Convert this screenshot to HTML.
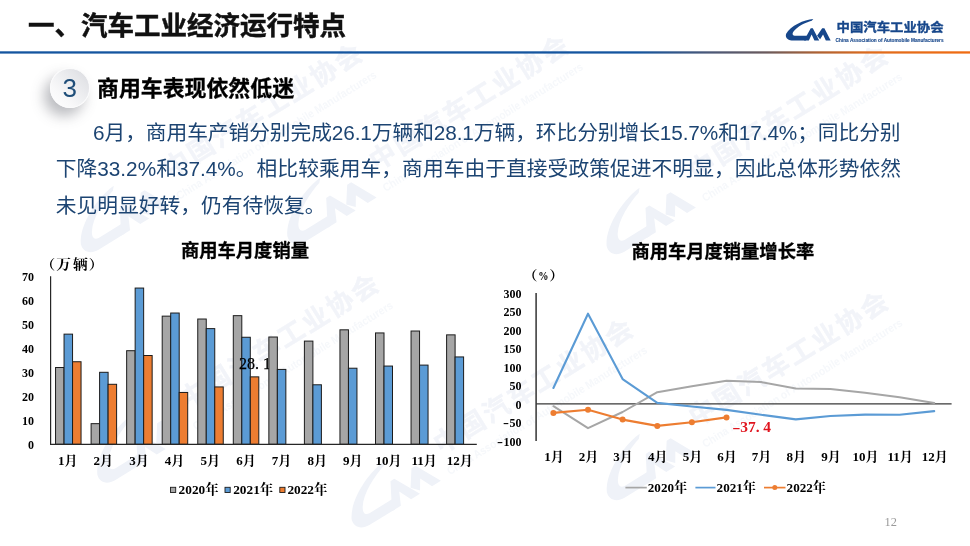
<!DOCTYPE html>
<html lang="zh-CN"><head><meta charset="utf-8"><title>汽车工业经济运行特点</title>
<style>
html,body{margin:0;padding:0;background:#fff;}
body{width:970px;height:546px;overflow:hidden;position:relative;font-family:"Liberation Sans","Noto Sans CJK SC",sans-serif;}
.abs{position:absolute;white-space:nowrap;}
#title{left:28px;top:7px;font-size:26.5px;font-weight:bold;color:#111;-webkit-text-stroke:0.45px #111;line-height:38px;letter-spacing:0px;}
#rule{left:0;top:51.1px;width:970px;height:2.6px;background:linear-gradient(90deg,#14559f 0,#14559f 62%,#5a5a66 76%,#e8792c 93%,#f08030 100%);}
#bubble{left:49.7px;top:68px;width:40px;height:40px;border-radius:50%;box-sizing:border-box;border:1.2px solid #fbfbfc;background:linear-gradient(225deg,#d9dade 0%,#e9eaed 35%,#f8f8f9 70%,#ffffff 100%);box-shadow:-6px 8px 13px rgba(70,72,82,.36);}
#num{left:49.7px;top:68.4px;width:40px;height:40px;line-height:40px;text-align:center;font-size:26px;color:#1f4e79;}
#sec{left:97px;top:72.5px;font-size:21.9px;font-weight:bold;color:#000;-webkit-text-stroke:0.3px #000;line-height:32px;}
.p{left:55.7px;width:845.3px;font-size:20.75px;line-height:34px;color:#1c4472;text-align:justify;text-align-last:justify;white-space:nowrap;}
#p1{left:93px;width:807.5px;top:116px;letter-spacing:-0.1px;}
#p2{top:152px;}
#p3{top:189px;width:auto;text-align:left;text-align-last:left;}
.ct{font-size:18.3px;font-weight:bold;color:#000;line-height:24px;-webkit-text-stroke:0.3px #000;}
#pg{left:884px;top:514px;font-size:10.5px;color:#8c8c8c;}
svg text{font-family:"Liberation Serif","Noto Serif CJK SC",serif;}
svg .sb{font-weight:bold;}
svg .sr{font-weight:normal;}
svg .sans{font-family:"Liberation Sans","Noto Sans CJK SC",sans-serif;font-weight:bold;}
</style></head><body>
<svg class="abs" style="left:0;top:0" width="970" height="546" viewBox="0 0 970 546">
<defs>
<g id="logo">
<path d="M455,122C330,130 140,215 84,325C68,372 98,413 160,415L352,416L398,352L200,352C168,350 165,325 185,295C235,222 350,170 434,146Z"/>
<path d="M328,416L420,250L448,250L536,416L470,416L432,335L394,416Z"/>
<path d="M506,352L576,250L606,250L692,416L626,416L588,335L548,398Z"/>
</g>
<g id="brand">
<g transform="translate(780,10) scale(0.07322)"><use href="#logo"/></g>
<text class="sans" x="836.6" y="31.7" font-size="12.3" textLength="107" lengthAdjust="spacingAndGlyphs" stroke="#17478b" stroke-width="0.35">中国汽车工业协会</text>
<text class="sans" x="835.6" y="42.2" font-size="5.3" textLength="108" lengthAdjust="spacingAndGlyphs" stroke="#17478b" stroke-width="0.12">China Association of Automobile Manufacturers</text>
</g>
<g id="wmk">
<g transform="translate(780,11.65) scale(0.07322)" fill="#eff2f8"><use href="#logo"/></g>
<text class="sans" x="837.1" y="31.8" font-size="12.2" letter-spacing="1.17" stroke="#f2f4f9" stroke-width="0.2" fill="#f2f4f9">中国汽车工业协会</text>
<text class="sans" x="835.6" y="42.2" font-size="5.3" textLength="108" lengthAdjust="spacingAndGlyphs" fill="#f6f8fb">China Association of Automobile Manufacturers</text>
</g>
</defs>
<g fill="#f2f4f9">
<g transform="translate(348.5,57) rotate(-31.85) scale(2.16) translate(-937.1,-27.3)"><use href="#wmk"/></g>
<g transform="translate(555,49) rotate(-31.85) scale(2.16) translate(-937.1,-27.3)"><use href="#wmk"/></g>
<g transform="translate(874.3,59) rotate(-31.85) scale(2.16) translate(-937.1,-27.3)"><use href="#wmk"/></g>
<g transform="translate(365,287.5) rotate(-31.85) scale(2.16) translate(-937.1,-27.3)"><use href="#wmk"/></g>
<g transform="translate(619.3,332.3) rotate(-31.85) scale(2.16) translate(-937.1,-27.3)"><use href="#wmk"/></g>
<g transform="translate(874.5,305) rotate(-31.85) scale(2.16) translate(-937.1,-27.3)"><use href="#wmk"/></g>
</g>
</svg>
<div class="abs" id="title">一、汽车工业经济运行特点</div>
<svg class="abs" style="left:0;top:0" width="970" height="60" viewBox="0 0 970 60"><defs><linearGradient id="rg" x1="0" x2="1" y1="0" y2="0"><stop offset="0" stop-color="#14559f"/><stop offset="0.655" stop-color="#14559f"/><stop offset="0.73" stop-color="#4a5878"/><stop offset="0.79" stop-color="#6a5a5c"/><stop offset="0.845" stop-color="#b06232"/><stop offset="0.9" stop-color="#e06c1c"/><stop offset="1" stop-color="#f06c12"/></linearGradient></defs><rect x="0" y="51.3" width="970" height="2.3" fill="url(#rg)"/><g fill="#17478b"><use href="#brand"/></g></svg>
<div class="abs" id="bubble"></div>
<div class="abs" id="num">3</div>
<div class="abs" id="sec">商用车表现依然低迷</div>
<div class="abs p" id="p1">6月，商用车产销分别完成26.1万辆和28.1万辆，环比分别增长15.7%和17.4%；同比分别</div>
<div class="abs p" id="p2">下降33.2%和37.4%。相比较乘用车，商用车由于直接受政策促进不明显，因此总体形势依然</div>
<div class="abs p" id="p3">未见明显好转，仍有待恢复。</div>
<div class="abs ct" style="left:181px;top:238.8px;">商用车月度销量</div>
<div class="abs ct" style="left:631.4px;top:239.6px;">商用车月度销量增长率</div>
<svg class="abs" style="left:0;top:0" width="970" height="546" viewBox="0 0 970 546">
<text transform="translate(40.5,268.5) scale(1.1,1)" class="sb" font-size="13.4">（</text><text transform="translate(56.2,268.5) scale(1.1,1)" class="sb" font-size="13.4" letter-spacing="1.8">万辆</text><text transform="translate(88.8,268.5) scale(1.1,1)" class="sb" font-size="13.4">）</text>
<rect x="55.55" y="367.50" width="8.50" height="76.80" fill="#a6a6a6" stroke="#1c1c1c" stroke-width="1"/>
<rect x="64.05" y="334.14" width="8.50" height="110.16" fill="#5b9bd5" stroke="#1c1c1c" stroke-width="1"/>
<rect x="72.55" y="361.74" width="8.50" height="82.56" fill="#ed7d31" stroke="#1c1c1c" stroke-width="1"/>
<rect x="91.10" y="423.66" width="8.50" height="20.64" fill="#a6a6a6" stroke="#1c1c1c" stroke-width="1"/>
<rect x="99.60" y="372.30" width="8.50" height="72.00" fill="#5b9bd5" stroke="#1c1c1c" stroke-width="1"/>
<rect x="108.10" y="384.30" width="8.50" height="60.00" fill="#ed7d31" stroke="#1c1c1c" stroke-width="1"/>
<rect x="126.65" y="350.70" width="8.50" height="93.60" fill="#a6a6a6" stroke="#1c1c1c" stroke-width="1"/>
<rect x="135.15" y="288.06" width="8.50" height="156.24" fill="#5b9bd5" stroke="#1c1c1c" stroke-width="1"/>
<rect x="143.65" y="355.50" width="8.50" height="88.80" fill="#ed7d31" stroke="#1c1c1c" stroke-width="1"/>
<rect x="162.20" y="316.14" width="8.50" height="128.16" fill="#a6a6a6" stroke="#1c1c1c" stroke-width="1"/>
<rect x="170.70" y="313.02" width="8.50" height="131.28" fill="#5b9bd5" stroke="#1c1c1c" stroke-width="1"/>
<rect x="179.20" y="392.46" width="8.50" height="51.84" fill="#ed7d31" stroke="#1c1c1c" stroke-width="1"/>
<rect x="197.75" y="319.02" width="8.50" height="125.28" fill="#a6a6a6" stroke="#1c1c1c" stroke-width="1"/>
<rect x="206.25" y="328.62" width="8.50" height="115.68" fill="#5b9bd5" stroke="#1c1c1c" stroke-width="1"/>
<rect x="214.75" y="386.94" width="8.50" height="57.36" fill="#ed7d31" stroke="#1c1c1c" stroke-width="1"/>
<rect x="233.30" y="315.66" width="8.50" height="128.64" fill="#a6a6a6" stroke="#1c1c1c" stroke-width="1"/>
<rect x="241.80" y="337.26" width="8.50" height="107.04" fill="#5b9bd5" stroke="#1c1c1c" stroke-width="1"/>
<rect x="250.30" y="376.86" width="8.50" height="67.44" fill="#ed7d31" stroke="#1c1c1c" stroke-width="1"/>
<text x="239" y="369.1" font-size="16" class="sr" fill="#000" stroke="#000" stroke-width="0.25">28.<tspan dx="4">1</tspan></text>
<rect x="268.85" y="337.02" width="8.50" height="107.28" fill="#a6a6a6" stroke="#1c1c1c" stroke-width="1"/>
<rect x="277.35" y="369.42" width="8.50" height="74.88" fill="#5b9bd5" stroke="#1c1c1c" stroke-width="1"/>
<rect x="304.40" y="341.10" width="8.50" height="103.20" fill="#a6a6a6" stroke="#1c1c1c" stroke-width="1"/>
<rect x="312.90" y="384.78" width="8.50" height="59.52" fill="#5b9bd5" stroke="#1c1c1c" stroke-width="1"/>
<rect x="339.95" y="329.82" width="8.50" height="114.48" fill="#a6a6a6" stroke="#1c1c1c" stroke-width="1"/>
<rect x="348.45" y="368.22" width="8.50" height="76.08" fill="#5b9bd5" stroke="#1c1c1c" stroke-width="1"/>
<rect x="375.50" y="332.94" width="8.50" height="111.36" fill="#a6a6a6" stroke="#1c1c1c" stroke-width="1"/>
<rect x="384.00" y="366.06" width="8.50" height="78.24" fill="#5b9bd5" stroke="#1c1c1c" stroke-width="1"/>
<rect x="411.05" y="331.02" width="8.50" height="113.28" fill="#a6a6a6" stroke="#1c1c1c" stroke-width="1"/>
<rect x="419.55" y="365.10" width="8.50" height="79.20" fill="#5b9bd5" stroke="#1c1c1c" stroke-width="1"/>
<rect x="446.60" y="334.86" width="8.50" height="109.44" fill="#a6a6a6" stroke="#1c1c1c" stroke-width="1"/>
<rect x="455.10" y="356.94" width="8.50" height="87.36" fill="#5b9bd5" stroke="#1c1c1c" stroke-width="1"/>
<text x="33.9" y="449.2" text-anchor="end" class="sb" font-size="12">0</text>
<text x="33.9" y="425.2" text-anchor="end" class="sb" font-size="12">10</text>
<text x="33.9" y="401.2" text-anchor="end" class="sb" font-size="12">20</text>
<text x="33.9" y="377.2" text-anchor="end" class="sb" font-size="12">30</text>
<text x="33.9" y="353.2" text-anchor="end" class="sb" font-size="12">40</text>
<text x="33.9" y="329.2" text-anchor="end" class="sb" font-size="12">50</text>
<text x="33.9" y="305.2" text-anchor="end" class="sb" font-size="12">60</text>
<text x="33.9" y="281.2" text-anchor="end" class="sb" font-size="12">70</text>
<text x="67.7" y="464.7" text-anchor="middle" class="sb" font-size="13">1月</text>
<text x="103.3" y="464.7" text-anchor="middle" class="sb" font-size="13">2月</text>
<text x="139.0" y="464.7" text-anchor="middle" class="sb" font-size="13">3月</text>
<text x="174.6" y="464.7" text-anchor="middle" class="sb" font-size="13">4月</text>
<text x="210.3" y="464.7" text-anchor="middle" class="sb" font-size="13">5月</text>
<text x="245.9" y="464.7" text-anchor="middle" class="sb" font-size="13">6月</text>
<text x="281.5" y="464.7" text-anchor="middle" class="sb" font-size="13">7月</text>
<text x="317.2" y="464.7" text-anchor="middle" class="sb" font-size="13">8月</text>
<text x="352.8" y="464.7" text-anchor="middle" class="sb" font-size="13">9月</text>
<text x="388.5" y="464.7" text-anchor="middle" class="sb" font-size="13">10月</text>
<text x="424.1" y="464.7" text-anchor="middle" class="sb" font-size="13">11月</text>
<text x="459.7" y="464.7" text-anchor="middle" class="sb" font-size="13">12月</text>
<path d="M50.6,276.3V444.3H476.8" fill="none" stroke="#262626" stroke-width="1.2"/>
<g>
<rect x="170.5" y="487.3" width="5.2" height="5.2" fill="#a6a6a6" stroke="#1c1c1c" stroke-width="0.9"/>
<text x="178.6" y="494.2" class="sb" font-size="13.3">2020年</text>
<rect x="225" y="487.3" width="5.2" height="5.2" fill="#5b9bd5" stroke="#1c1c1c" stroke-width="0.9"/>
<text x="233.2" y="494.2" class="sb" font-size="13.3">2021年</text>
<rect x="279.8" y="487.3" width="5.2" height="5.2" fill="#ed7d31" stroke="#1c1c1c" stroke-width="0.9"/>
<text x="287.4" y="494.2" class="sb" font-size="13.3">2022年</text>
</g>
<text transform="translate(523.1,279.7) scale(1.1,1)" class="sb" font-size="13.2">（</text><text transform="translate(543.4,280) scale(0.8,1)" text-anchor="middle" class="sb" font-size="12.8">%</text><text transform="translate(549.2,279.7) scale(1.1,1)" class="sb" font-size="13.2">）</text>
<path d="M536.1,293V440.9" stroke="#333" stroke-width="1.5" fill="none"/>
<path d="M536.1,403.75H951.6" stroke="#383838" stroke-width="1.25" fill="none"/>
<polyline points="553.4,406.2 588.0,428.2 622.6,412.0 657.3,392.2 691.9,386.2 726.5,380.7 761.1,382.1 795.8,388.6 830.4,389.0 865.0,392.8 899.6,397.2 934.2,402.9" fill="none" stroke="#a6a6a6" stroke-width="2" stroke-linejoin="round" stroke-linecap="round"/>
<polyline points="553.4,388.0 588.0,313.7 622.6,379.1 657.3,402.9 691.9,406.5 726.5,409.9 761.1,414.8 795.8,419.4 830.4,416.0 865.0,414.6 899.6,414.8 934.2,411.1" fill="none" stroke="#5b9bd5" stroke-width="2.1" stroke-linejoin="round" stroke-linecap="round"/>
<polyline points="553.4,412.9 588.0,409.8 622.6,419.6 657.3,425.9 691.9,422.2 726.5,417.4" fill="none" stroke="#ed7d31" stroke-width="2.1" stroke-linejoin="round" stroke-linecap="round"/>
<circle cx="553.4" cy="412.9" r="3" fill="#ed7d31"/>
<circle cx="588.0" cy="409.8" r="3" fill="#ed7d31"/>
<circle cx="622.6" cy="419.6" r="3" fill="#ed7d31"/>
<circle cx="657.3" cy="425.9" r="3" fill="#ed7d31"/>
<circle cx="691.9" cy="422.2" r="3" fill="#ed7d31"/>
<circle cx="726.5" cy="417.4" r="3" fill="#ed7d31"/>
<text x="521.6" y="445.6" text-anchor="end" class="sb" font-size="12">100</text>
<text transform="translate(503.0,445.6) scale(1.5,1)" text-anchor="end" class="sb" font-size="12">-</text>
<text x="521.6" y="427.2" text-anchor="end" class="sb" font-size="12">50</text>
<text transform="translate(509.0,427.2) scale(1.5,1)" text-anchor="end" class="sb" font-size="12">-</text>
<text x="521.6" y="408.7" text-anchor="end" class="sb" font-size="12">0</text>
<text x="521.6" y="390.2" text-anchor="end" class="sb" font-size="12">50</text>
<text x="521.6" y="371.8" text-anchor="end" class="sb" font-size="12">100</text>
<text x="521.6" y="353.3" text-anchor="end" class="sb" font-size="12">150</text>
<text x="521.6" y="334.8" text-anchor="end" class="sb" font-size="12">200</text>
<text x="521.6" y="316.3" text-anchor="end" class="sb" font-size="12">250</text>
<text x="521.6" y="297.9" text-anchor="end" class="sb" font-size="12">300</text>
<text x="553.9" y="460.9" text-anchor="middle" class="sb" font-size="13">1月</text>
<text x="588.5" y="460.9" text-anchor="middle" class="sb" font-size="13">2月</text>
<text x="623.1" y="460.9" text-anchor="middle" class="sb" font-size="13">3月</text>
<text x="657.8" y="460.9" text-anchor="middle" class="sb" font-size="13">4月</text>
<text x="692.4" y="460.9" text-anchor="middle" class="sb" font-size="13">5月</text>
<text x="727.0" y="460.9" text-anchor="middle" class="sb" font-size="13">6月</text>
<text x="761.6" y="460.9" text-anchor="middle" class="sb" font-size="13">7月</text>
<text x="796.2" y="460.9" text-anchor="middle" class="sb" font-size="13">8月</text>
<text x="830.9" y="460.9" text-anchor="middle" class="sb" font-size="13">9月</text>
<text x="865.5" y="460.9" text-anchor="middle" class="sb" font-size="13">10月</text>
<text x="900.1" y="460.9" text-anchor="middle" class="sb" font-size="13">11月</text>
<text x="934.7" y="460.9" text-anchor="middle" class="sb" font-size="13">12月</text>
<text transform="translate(732.3,432.3) scale(1.6,1)" class="sb" font-size="15.5" fill="#e0141e">-</text><text x="740.2" y="432.3" class="sb" font-size="15.5" fill="#e0141e">37.<tspan dx="3.7">4</tspan></text>
<g>
<path d="M625.4,487.6H646.8" stroke="#a6a6a6" stroke-width="1.7"/>
<text x="647.8" y="492.2" class="sb" font-size="13.1">2020年</text>
<path d="M695.4,487.6H715.5" stroke="#5b9bd5" stroke-width="1.7"/>
<text x="716.6" y="492.2" class="sb" font-size="13.1">2021年</text>
<path d="M764,487.6H785.5" stroke="#ed7d31" stroke-width="1.7"/>
<circle cx="774.8" cy="487.6" r="2.5" fill="#ed7d31"/>
<text x="786.6" y="492.2" class="sb" font-size="13.1">2022年</text>
</g>
<text x="884.6" y="525.7" font-size="12.4" fill="#9a9a9a">12</text>
</svg>
</body></html>
